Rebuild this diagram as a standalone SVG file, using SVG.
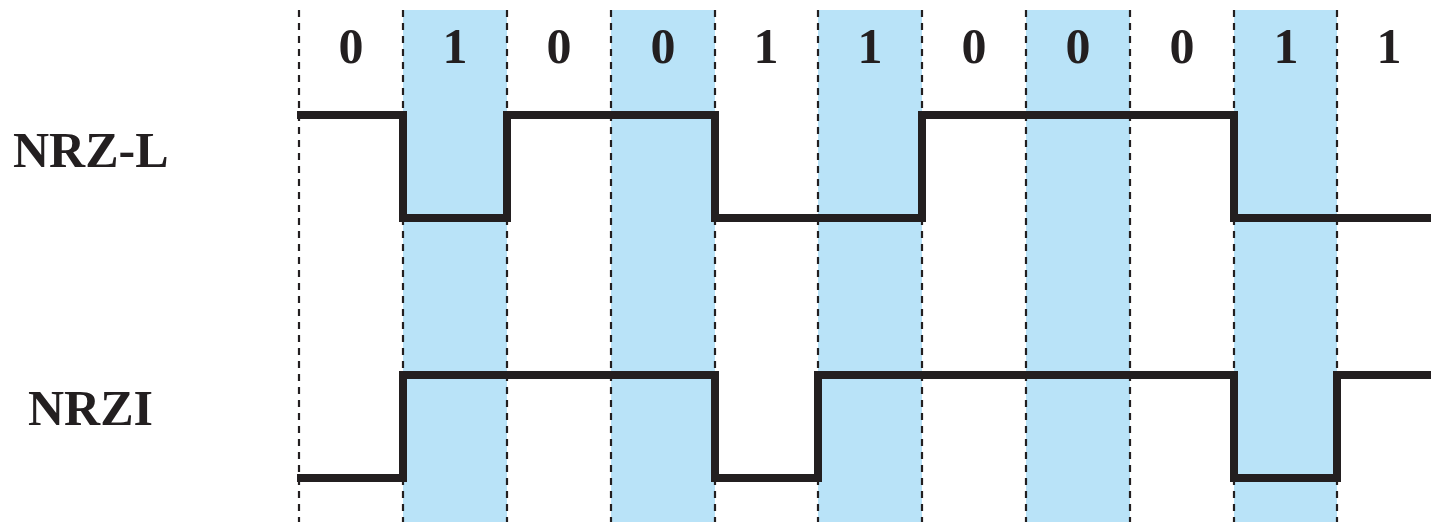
<svg xmlns="http://www.w3.org/2000/svg" width="1431" height="522" viewBox="0 0 1431 522">
<style>
.band{fill:#b9e3f8}
.grid{stroke:#231f20;stroke-width:2.2;stroke-dasharray:7,6;fill:none}
.sig{stroke:#231f20;stroke-width:8;fill:none;stroke-linejoin:miter;stroke-linecap:butt}
.bit{font-family:"Liberation Serif","Times New Roman",serif;font-weight:bold;font-size:50px;fill:#231f20;text-anchor:middle}
.lbl{font-family:"Liberation Serif","Times New Roman",serif;font-weight:bold;font-size:50px;fill:#231f20}
</style>
<rect width="1431" height="522" fill="#fff"/>
<g id="bands">
<rect class="band" x="403" y="10" width="104" height="512"/>
<rect class="band" x="611" y="10" width="104" height="512"/>
<rect class="band" x="818" y="10" width="104" height="512"/>
<rect class="band" x="1026" y="10" width="104" height="512"/>
<rect class="band" x="1234" y="10" width="103" height="512"/>
</g>
<g id="grid">
<line class="grid" x1="299" y1="10" x2="299" y2="522"/>
<line class="grid" x1="403" y1="10" x2="403" y2="522"/>
<line class="grid" x1="507" y1="10" x2="507" y2="522"/>
<line class="grid" x1="611" y1="10" x2="611" y2="522"/>
<line class="grid" x1="715" y1="10" x2="715" y2="522"/>
<line class="grid" x1="818" y1="10" x2="818" y2="522"/>
<line class="grid" x1="922" y1="10" x2="922" y2="522"/>
<line class="grid" x1="1026" y1="10" x2="1026" y2="522"/>
<line class="grid" x1="1130" y1="10" x2="1130" y2="522"/>
<line class="grid" x1="1234" y1="10" x2="1234" y2="522"/>
<line class="grid" x1="1337" y1="10" x2="1337" y2="522"/>
</g>
<g id="bits">
<text class="bit" x="351" y="63">0</text>
<text class="bit" x="455" y="63">1</text>
<text class="bit" x="559" y="63">0</text>
<text class="bit" x="663" y="63">0</text>
<text class="bit" x="766" y="63">1</text>
<text class="bit" x="870" y="63">1</text>
<text class="bit" x="974" y="63">0</text>
<text class="bit" x="1078" y="63">0</text>
<text class="bit" x="1182" y="63">0</text>
<text class="bit" x="1286" y="63">1</text>
<text class="bit" x="1389" y="63">1</text>
</g>
<g id="nrzl">
<text class="lbl" x="13" y="167">NRZ-L</text>
<path class="sig" d="M297 115 H403 V218 H507 V115 H715 V218 H922 V115 H1234 V218 H1431"/>
</g>
<g id="nrzi">
<text class="lbl" x="28" y="425">NRZI</text>
<path class="sig" d="M297 478 H403 V375 H715 V478 H818 V375 H1234 V478 H1337 V375 H1431"/>
</g>
</svg>
